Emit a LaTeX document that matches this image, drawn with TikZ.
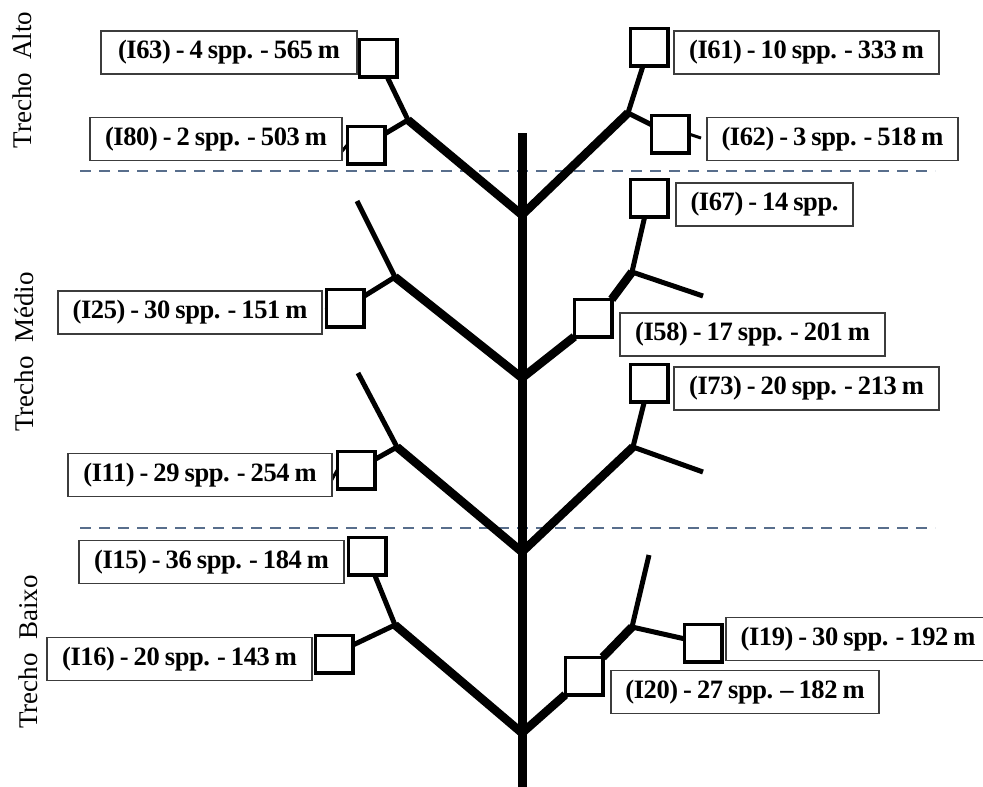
\documentclass[tikz,border=0pt]{standalone}
\usepackage{fontspec}
\setmainfont{Liberation Serif}
\newfontfamily\tagfont[LetterSpace=-1.5, WordSpace=0.8]{Liberation Serif}
\definecolor{dashcol}{RGB}{88,110,140}
\definecolor{boxcol}{RGB}{60,60,60}
\tikzset{
  plot/.style={draw=black, fill=white, line width=3.5pt, minimum size=34pt, inner sep=0pt},
  tag/.style={draw=boxcol, fill=white, line width=1.3pt, inner sep=0pt,
    minimum height=43pt, font=\tagfont\fontsize{26.5}{30}\selectfont\bfseries},
  trunk/.style={line width=9pt},
  limb/.style={line width=8.5pt},
  twig/.style={line width=5pt},
  stub/.style={line width=3pt},
  divider/.style={draw=dashcol, line width=2pt, dash pattern=on 11pt off 8pt},
  zone/.style={rotate=90, font=\fontsize{27}{30}\selectfont}
}
\begin{document}
\begin{tikzpicture}[x=1pt, y=-1pt]
\useasboundingbox (0,0) rectangle (983,787);

% section dividers
\draw[divider] (80,171) -- (935,171);
\draw[divider] (80,528) -- (935,528);

% zone labels
\node[zone] (zA) at (22,80) {Trecho\ \ Alto};
\node[zone] (zM) at (24,352) {Trecho\ \ M\'edio};
\node[zone] (zB) at (28,652) {Trecho\ \ Baixo};

% trunk and junctions
\coordinate (t0) at (522,133);
\coordinate (t5) at (522,787);
\coordinate (j1) at (522,215);
\coordinate (j2) at (522,378);
\coordinate (j3) at (522,552);
\coordinate (j4) at (522,733);

% forks and free ends
\coordinate (a1) at (408,120);
\coordinate (b1) at (628,113);
\coordinate (a2) at (395,277);
\coordinate (e2) at (357,201);
\coordinate (b2) at (632,272);
\coordinate (e2r) at (703,296);
\coordinate (a3) at (397,447);
\coordinate (e3) at (358,373);
\coordinate (b3) at (633,447);
\coordinate (e3r) at (703,472);
\coordinate (a4) at (395,625);
\coordinate (b4) at (632,627);
\coordinate (e4r) at (649,555);

% sampling points
\node[plot] (s63) at (378,58) {};
\node[plot] (s80) at (366,145) {};
\node[plot] (s61) at (649,47) {};
\node[plot] (s62) at (670,134) {};
\node[plot] (s25) at (345,308) {};
\node[plot] (s58) at (593,318) {};
\node[plot] (s67) at (649,198) {};
\node[plot] (s11) at (356,470) {};
\node[plot] (s73) at (649,383) {};
\node[plot] (s15) at (367,556) {};
\node[plot] (s16) at (334,654) {};
\node[plot] (s20) at (584,676) {};
\node[plot] (s19) at (703,643) {};

% tails on a few points
\coordinate (k80) at (338,156);
\coordinate (k62) at (701,138);
\coordinate (k11) at (330,483);
\coordinate (k25) at (327,311);

% stream network
\draw[trunk] (t0) -- (t5);
\draw[limb] (j1) -- (a1);
\draw[twig] (a1) -- (s63);
\draw[twig] (a1) -- (s80);
\draw[stub] (s80.west) -- (k80);
\draw[limb] (j1) -- (b1);
\draw[twig] (b1) -- (s61);
\draw[twig] (b1) -- (s62);
\draw[stub] (s62.east) -- (k62);

\draw[limb] (j2) -- (a2);
\draw[twig] (a2) -- (e2);
\draw[twig] (a2) -- (s25);
\draw[stub] (s25.west) -- (k25);
\draw[limb] (j2) -- (s58.south west);
\draw[limb] (s58.north east) -- (b2);
\draw[twig] (b2) -- (s67);
\draw[twig] (b2) -- (e2r);

\draw[limb] (j3) -- (a3);
\draw[twig] (a3) -- (e3);
\draw[twig] (a3) -- (s11);
\draw[stub] (s11.west) -- (k11);
\draw[limb] (j3) -- (b3);
\draw[twig] (b3) -- (s73);
\draw[twig] (b3) -- (e3r);

\draw[limb] (j4) -- (a4);
\draw[twig] (a4) -- (s15);
\draw[twig] (a4) -- (s16);
\draw[limb] (j4) -- (s20.south west);
\draw[limb] (s20.north east) -- (b4);
\draw[twig] (b4) -- (e4r);
\draw[twig] (b4) -- (s19);

% redraw points above the lines
\foreach \s in {s63,s80,s61,s62,s25,s58,s67,s11,s73,s15,s16,s20,s19}
  \draw[black, line width=3.5pt, fill=white] (\s.south west) rectangle (\s.north east);

% labels
\node[tag, minimum width=256pt] (L63) at (229,52.5) {(I63) - 4 spp. - 565 m};
\node[tag, minimum width=252pt] (L80) at (216,139) {(I80) - 2 spp. - 503 m};
\node[tag, minimum width=265pt] (L61) at (806.5,52.5) {(I61) - 10 spp. - 333 m};
\node[tag, minimum width=251pt] (L62) at (832.5,139) {(I62) - 3 spp. - 518 m};
\node[tag, minimum width=264pt] (L25) at (190,312.5) {(I25) - 30 spp. - 151 m};
\node[tag, minimum width=177pt] (L67) at (764.5,204.5) {(I67) - 14 spp.};
\node[tag, minimum width=265pt] (L58) at (752.5,334.5) {(I58) - 17 spp. - 201 m};
\node[tag, minimum width=264pt] (L11) at (200,475) {(I11) - 29 spp. - 254 m};
\node[tag, minimum width=265pt] (L73) at (806.5,388.5) {(I73) - 20 spp. - 213 m};
\node[tag, minimum width=265pt] (L15) at (211.5,562) {(I15) - 36 spp. - 184 m};
\node[tag, minimum width=265pt] (L16) at (179.5,659) {(I16) - 20 spp. - 143 m};
\node[tag, minimum width=264pt] (L19) at (858,639) {(I19) - 30 spp. - 192 m};
\node[tag, minimum width=268pt] (L20) at (745,692) {(I20) - 27 spp. \textendash{} 182 m};
\end{tikzpicture}
\end{document}
